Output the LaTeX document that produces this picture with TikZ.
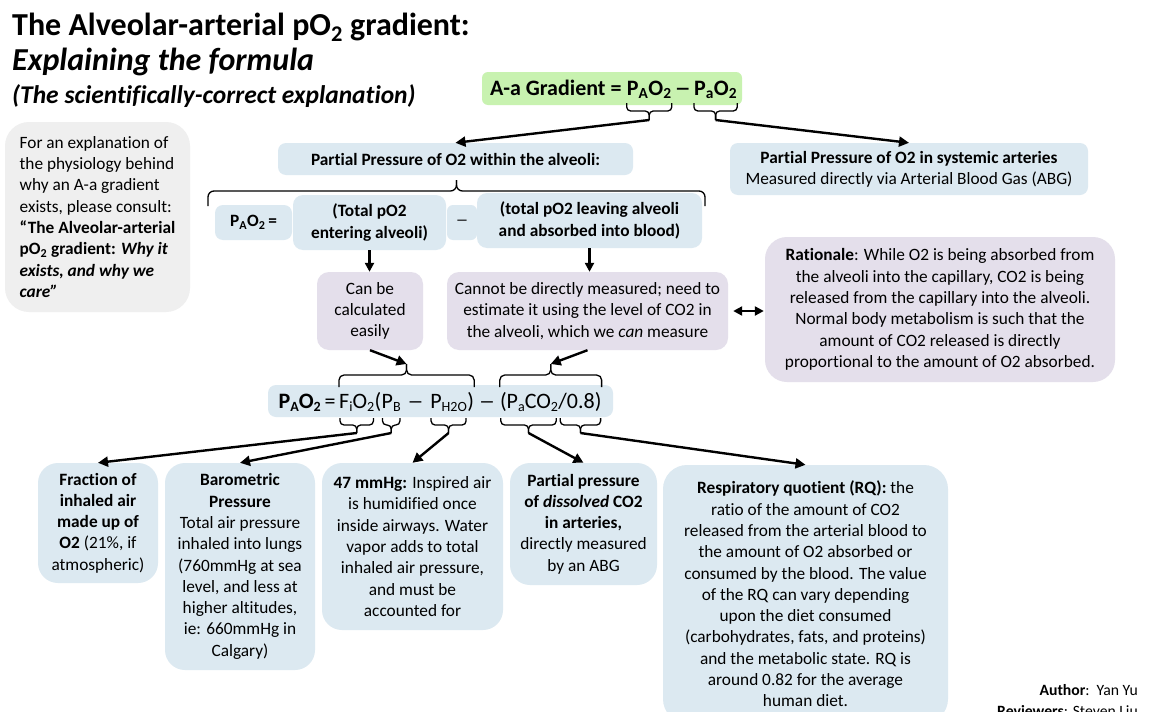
\documentclass[tikz,border=0pt]{standalone}
\usepackage{fontspec}
\setmainfont{Carlito}[Ligatures={NoCommon}]
\usetikzlibrary{arrows.meta,calc}
\definecolor{bluebox}{HTML}{DCE9F1}
\definecolor{purplebox}{HTML}{E4DFEB}
\definecolor{greybox}{HTML}{EFEFEF}
\definecolor{greenbox}{HTML}{C8F2B0}
\newcommand\fsz[2]{\fontsize{#1}{#2}\selectfont}
\newcommand\gsp{\kern0.226em}
\newcommand\nsp{\kern0.15em}
\newcommand\wdash{\scalebox{1.5}[1]{–}}
\makeatletter
\newcommand\sbs[1]{\raisebox{-0.17em}{\fontsize{\strip@pt\dimexpr\f@size pt*64/100\relax}{1pt}\selectfont #1}}
\makeatother
% PowerPoint-style brace: opts, left point, right point, y ends, y mid, y tip, tip name
\newcommand\ppbrace[7][]{%
  \coordinate (#7-l) at (#2);
  \coordinate (#7-r) at (#3);
  \coordinate (#7-m) at ($(#7-l)!0.5!(#7-r)$);
  \coordinate (#7-ya) at (0,#4);
  \coordinate (#7-yb) at (0,#5);
  \coordinate (#7-yc) at (0,#6);
  \coordinate (#7) at (#7-m |- #7-yc);
  \draw[brc,#1] (#7-l |- #7-ya) -- (#7-l |- #7-yb) -- (#7-m |- #7-yb) -- (#7);
  \draw[brc,#1] (#7-r |- #7-ya) -- (#7-r |- #7-yb) -- (#7-m |- #7-yb) -- (#7);
}
\tikzset{
  sz/.style 2 args={minimum width=#1, minimum height=#2},
  body/.style={inner sep=0pt, align=center, font=\fsz{17.3}{21.3}},
  bb/.style={body, fill=bluebox, rounded corners=10pt},
  pb/.style={body, fill=purplebox, rounded corners=12pt},
  gb/.style={body, fill=greybox, rounded corners=24pt},
  ttl/.style={anchor=base west, inner sep=0pt},
  ftxt/.style={anchor=base west, inner sep=0pt},
  brc/.style={line width=1.3pt, rounded corners=4pt},
  arr/.style={line width=2.4pt, -{Triangle[length=10pt,width=10pt]}},
}
\begin{document}
\begin{tikzpicture}[x=1pt,y=-1pt]
\useasboundingbox (0,0) rectangle (1162,712);
\fill[white] (0,0) rectangle (1162,712);

% ---------- title ----------
\node[ttl, font=\fsz{32}{38}\bfseries] (t1) at (12,35) {The Alveolar-arterial pO\textsubscript{2} gradient:};
\node[ttl, font=\fsz{32}{38}\bfseries\itshape] (t2) at (12,70) {Explaining the formula};
\node[ttl, font=\fsz{25.5}{30}\bfseries\itshape] (t3) at (12,103) {(The scientifically-correct explanation)};

% ---------- left note ----------
\node[gb, sz={185pt}{190pt}, align=left] (note) at (97.5,217) {For an explanation of\\
the physiology behind\\
why an A-a gradient\\
exists, please consult:\\
\textbf{“The Alveolar-arterial}\\
\textbf{pO\textsubscript{2} gradient: \textit{Why it}}\\
\textbf{\textit{exists, and why we}}\\
\textbf{\textit{care”}}};

% ---------- green formula ----------
\node[fill=greenbox, rounded corners=6pt, sz={260pt}{33pt}, inner sep=0pt] (gbox) at (612,88.5) {};
\begin{scope}[every node/.append style={ftxt, font=\fsz{22}{26}\bfseries}]
\node (g1) at (490,95) {A-a Gradient =\gsp};
\node (g2) at (g1.base east) {P\textsubscript{A}O\textsubscript{2}};
\node (g3) at (g2.base east) {\kern0.12em\wdash\kern0.12em};
\node (g4) at (g3.base east) {P\textsubscript{a}O\textsubscript{2}};
\end{scope}
\ppbrace{g2.west}{g2.east}{103}{111}{120}{tipPA}
\ppbrace{g4.west}{g4.east}{103}{111}{120}{tipPa}

% ---------- second level ----------
\node[bb, sz={355pt}{32pt}, rounded corners=8pt] (alv) at (455.5,159) {\textbf{Partial Pressure of O2 within the alveoli:}};
\node[bb, sz={358pt}{52pt}, rounded corners=8pt] (sys) at (909,169) {\textbf{Partial Pressure of O2 in systemic arteries}\\ Measured directly via Arterial Blood Gas (ABG)};
\draw[arr] (tipPA) -- (alv.north);
\draw[arr] (tipPa) -- (sys.north);

\coordinate (bigL) at (208,0);
\coordinate (bigR) at (705,0);
\ppbrace[rounded corners=6pt]{bigL}{bigR}{206}{191}{180}{tipBig}

\node[bb, sz={77pt}{35pt}, rounded corners=8pt] (pa) at (253.5,222.5) {\textbf{P\textsubscript{A}O\textsubscript{2}\,=}};
\node[bb, sz={153pt}{55pt}] (total) at (369.5,222.5) {\textbf{(Total pO2}\\ \textbf{entering alveoli)}};
\node[bb, sz={30pt}{35pt}, rounded corners=6pt] (minus) at (462,222.5) {\wdash};
\node[bb, sz={225pt}{55pt}] (leave) at (589.5,220.5) {\textbf{(total pO2 leaving alveoli}\\ \textbf{and absorbed into blood)}};

\node[pb, sz={106pt}{78pt}] (can) at (370,311) {Can be\\ calculated\\ easily};
\node[pb, sz={281pt}{78pt}] (cannot) at (587.5,311) {Cannot be directly measured; need to\\ estimate it using the level of CO2 in\\ the alveoli, which we \textit{can} measure};
\draw[arr, -{Triangle[length=9pt,width=9pt]}] (total.south) -- (total.south |- can.north);
\draw[arr, -{Triangle[length=9pt,width=9pt]}] (leave.south) -- (leave.south |- cannot.north);

\node[pb, sz={350pt}{145pt}, rounded corners=22pt] (rat) at (940,309.5) {\textbf{Rationale}: While O2 is being absorbed from\\ the alveoli into the capillary, CO2 is being\\ released from the capillary into the alveoli.\\ Normal body metabolism is such that the\\ amount of CO2 released is directly\\ proportional to the amount of O2 absorbed.};
\draw[arr, {Triangle[length=9pt,width=9pt]}-{Triangle[length=9pt,width=9pt]}, shorten <=5pt, shorten >=1pt] (cannot.east) -- (cannot.east -| rat.west);

% ---------- main formula ----------
\node[fill=bluebox, rounded corners=8pt, sz={345pt}{32pt}, inner sep=0pt] (fbox) at (440.5,401) {};
\begin{scope}[every node/.append style={ftxt, font=\fsz{22}{26}}]
\node (f3) at (339,408) {F\sbs{i}O\sbs{2}};
\node[anchor=base east] (f2) at (f3.base west) {\nsp=\nsp};
\node[anchor=base east] (f1) at (f2.base west) {\textbf{P\sbs{A}O\sbs{2}}};
\node (f4) at (f3.base east) {(};
\node (f5) at (f4.base east) {P\sbs{B}};
\node (f6) at (f5.base east) {\kern0.28em\wdash\kern0.28em};
\node (f7) at (f6.base east) {P\sbs{H2O}};
\node (f8) at (f7.base east) {)};
\node (f9) at (f8.base east) {\kern0.2em\wdash\kern0.2em};
\node (f10) at (f9.base east) {(P\sbs{a}CO\sbs{2}};
\node (f11) at (f10.base east) {/0.8)};
\end{scope}
\ppbrace[rounded corners=5pt]{f3.west}{f8.east}{387}{375}{364}{tipU1}
\ppbrace[rounded corners=5pt]{f10.west}{f11.east}{387}{375}{364}{tipU2}
\ppbrace{[xshift=1pt]f3.west}{[xshift=-1pt]f3.east}{418}{425}{433}{tipF}
\ppbrace{[xshift=1pt]f5.west}{[xshift=-1pt]f5.east}{418}{425}{433}{tipB}
\ppbrace{[xshift=1pt]f7.west}{[xshift=-1pt]f7.east}{418}{425}{433}{tipH}
\ppbrace{[xshift=1pt]f10.west}{[xshift=-2pt]f10.east}{418}{425}{433}{tipC}
\ppbrace{[xshift=2pt]f11.west}{[xshift=-1pt]f11.east}{418}{425}{433}{tipR}
\draw[arr] (can.south) -- (tipU1);
\draw[arr] (cannot.south) -- (tipU2);

% ---------- bottom boxes ----------
\node[bb, sz={120pt}{120pt}, rounded corners=20pt] (frac) at (98,523) {\textbf{Fraction of}\\ \textbf{inhaled air}\\ \textbf{made up of}\\ \textbf{O2} (21\%, if\\ atmospheric)};
\node[bb, sz={150pt}{207pt}, rounded corners=20pt] (baro) at (240,566.5) {\textbf{Barometric}\\ \textbf{Pressure}\\ Total air pressure\\ inhaled into lungs\\ (760mmHg at sea\\ level, and less at\\ higher altitudes,\\ ie: 660mmHg in\\ Calgary)};
\node[bb, sz={181pt}{167pt}, rounded corners=20pt] (water) at (412.5,546.5) {\textbf{47 mmHg:} Inspired air\\ is humidified once\\ inside airways. Water\\ vapor adds to total\\ inhaled air pressure,\\ and must be\\ accounted for};
\node[bb, sz={147pt}{122pt}, rounded corners=20pt] (pco) at (583.5,524) {\textbf{Partial pressure}\\ \textbf{of \textit{dissolved} CO2}\\ \textbf{in arteries,}\\ directly measured\\ by an ABG};
\node[bb, sz={285pt}{258pt}, rounded corners=24pt] (rq) at (805.5,594) {\textbf{Respiratory quotient (RQ):} the\\ ratio of the amount of CO2\\ released from the arterial blood to\\ the amount of O2 absorbed or\\ consumed by the blood. The value\\ of the RQ can vary depending\\ upon the diet consumed\\ (carbohydrates, fats, and proteins)\\ and the metabolic state. RQ is\\ around 0.82 for the average\\ human diet.};

\draw[arr] (tipF) -- (frac.north);
\draw[arr] (tipB) -- (baro.north);
\draw[arr] (tipH) -- (water.north);
\draw[arr] (tipC) -- (pco.north);
\draw[arr] (tipR) -- (rq.north);

% ---------- credits ----------
\node[anchor=base east, inner sep=0pt, font=\fsz{15.7}{19}] (auth) at (1138,695) {\textbf{Author}:\ \ Yan Yu};
\node[anchor=base east, inner sep=0pt, font=\fsz{15.7}{19}] (rev) at (1138,716) {\textbf{Reviewers}: Steven Liu};
\end{tikzpicture}
\end{document}
